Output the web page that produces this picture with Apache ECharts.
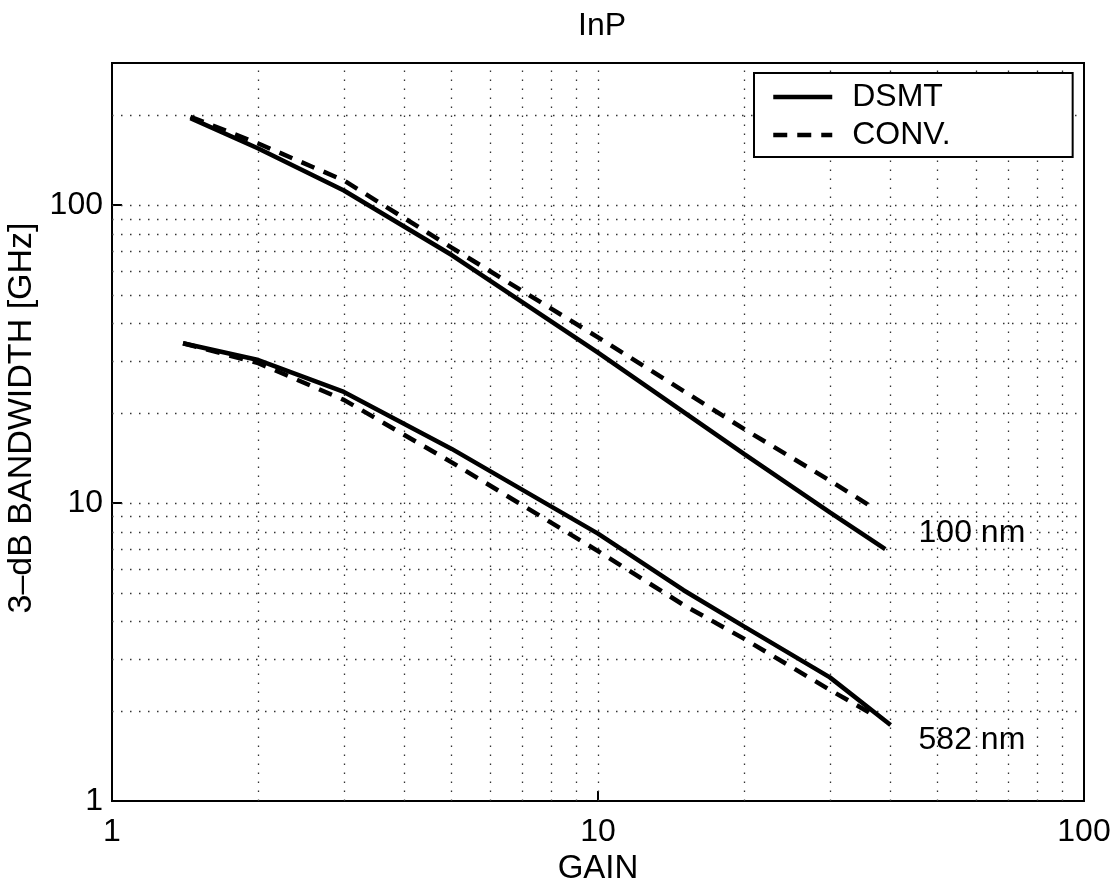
<!DOCTYPE html>
<html>
<head>
<meta charset="utf-8">
<script src="https://cdn.jsdelivr.net/npm/echarts@6/dist/echarts.min.js"></script>
<style>
html,body{margin:0;padding:0;background:#fff;}
#box{width:1114px;height:884px;}
</style>
</head>
<body>
<div id="box"></div>
<script>
// gain values and bandwidth (GHz)
var dsmt100Gain = [1.45, 2, 3, 5, 10, 20, 30, 39];
var dsmt100Bw   = [196, 155, 112, 68, 32, 14.6, 9.3, 7.0];
var conv100Gain = [1.45, 2, 3, 5, 10, 20, 30, 37];
var conv100Bw   = [198, 161, 121, 72, 36, 17.7, 11.9, 9.6];
var dsmt582Gain = [1.4, 2, 3, 5, 10, 15, 20, 30, 40];
var dsmt582Bw   = [34.4, 30.2, 23.6, 15.2, 7.9, 5.1, 3.85, 2.6, 1.8];
var conv582Gain = [1.4, 2, 3, 5, 10, 15, 20, 30, 37];
var conv582Bw   = [34.4, 29.5, 22.2, 13.7, 6.9, 4.55, 3.5, 2.36, 1.94];

// dotted grid positions (matlab style log grid)
var gridX = [2, 3, 4, 5, 6, 7, 8, 9, 10, 20, 30, 40, 50, 60, 70, 80, 90];
var gridY = [2, 3, 4, 5, 6, 7, 8, 9, 10, 20, 30, 40, 50, 60, 70, 80, 90, 100, 200];

var labels = [
	{name: '100 nm', coord: [58.8, 7.9]},
	{name: '582 nm', coord: [58.8, 1.6]}
];

function pairs(xs, ys){
	var out = [];
	for (var i = 0; i < xs.length; i++) out.push([xs[i], ys[i]]);
	return out;
}

var font = 'Liberation Sans, Arial, Helvetica, sans-serif';
var solid = {color: '#000', width: 4.5, type: 'solid'};
var dashed = {color: '#000', width: 4.5, type: [14, 10]};

var gridLines = [];
for (var i = 0; i < gridX.length; i++) gridLines.push({xAxis: gridX[i]});
for (var j = 0; j < gridY.length; j++) gridLines.push({yAxis: gridY[j]});

var mychar = echarts.init(document.getElementById('box'));
var option = {
	animation: false,
	backgroundColor: '#fff',
	title: {
		text: 'InP',
		left: 597,
		top: 5,
		textAlign: 'center',
		textStyle: {fontFamily: font, fontSize: 32, fontWeight: 'normal', color: '#000'}
	},
	legend: {
		data: ['DSMT', 'CONV.'],
		orient: 'vertical',
		left: 754,
		top: 73,
		padding: [8, 122, 6, 17],
		itemGap: 6,
		itemWidth: 59,
		itemHeight: 14,
		backgroundColor: '#fff',
		borderColor: '#000',
		borderWidth: 2,
		borderRadius: 0,
		lineStyle: {width: 4.5},
		itemStyle: {color: 'rgba(0,0,0,0)', borderColor: 'rgba(0,0,0,0)', borderWidth: 0},
		textStyle: {fontFamily: font, fontSize: 32, color: '#000', padding: [0, 0, 0, 15]}
	},
	grid: {
		left: 112, right: 30, top: 63, bottom: 83,
		show: true, borderColor: '#000', borderWidth: 2,
		containLabel: false,
		outerBoundsMode: 'none'
	},
	xAxis: {
		type: 'log',
		logBase: 10,
		min: 1,
		max: 100,
		name: 'GAIN',
		nameLocation: 'middle',
		nameGap: 36,
		nameTextStyle: {fontFamily: font, fontSize: 33, color: '#000'},
		axisLine: {show: true, lineStyle: {color: '#000', width: 2}},
		axisTick: {inside: true, length: 10, lineStyle: {color: '#000', width: 2}},
		axisLabel: {fontFamily: font, fontSize: 32, color: '#000', margin: 15},
		splitLine: {show: false},
		minorTick: {show: false}
	},
	yAxis: {
		type: 'log',
		logBase: 10,
		min: 1,
		max: 300,
		name: '3–dB BANDWIDTH [GHz]',
		nameLocation: 'middle',
		nameGap: 69,
		nameRotate: 90,
		nameTextStyle: {fontFamily: font, fontSize: 34, color: '#000', padding: [0, 0, 0, 28]},
		axisLine: {show: true, lineStyle: {color: '#000', width: 2}},
		axisTick: {inside: true, length: 10, lineStyle: {color: '#000', width: 2}},
		axisLabel: {fontFamily: font, fontSize: 32, color: '#000', margin: 9, showMaxLabel: false},
		splitLine: {show: false}
	},
	series: [
		{
			name: 'DSMT', type: 'line', showSymbol: false, symbol: 'none',
			lineStyle: solid, itemStyle: {color: '#000'},
			data: pairs(dsmt100Gain, dsmt100Bw),
			z: 5,
			markLine: {
				silent: true,
				symbol: ['none', 'none'],
				label: {show: false},
				lineStyle: {color: '#333', width: 1.3, type: [1.5, 7.5]},
				data: gridLines,
				z: 1
			}
		},
		{
			name: 'CONV.', type: 'line', showSymbol: false, symbol: 'none',
			lineStyle: dashed, itemStyle: {color: '#000'},
			data: pairs(conv100Gain, conv100Bw),
			z: 5
		},
		{
			name: 'DSMT', type: 'line', showSymbol: false, symbol: 'none',
			lineStyle: solid, itemStyle: {color: '#000'},
			data: pairs(dsmt582Gain, dsmt582Bw),
			z: 5,
			markPoint: {
				symbol: 'circle',
				symbolSize: 1,
				itemStyle: {color: 'rgba(0,0,0,0)'},
				label: {show: true, position: 'inside', formatter: '{b}', fontFamily: font, fontSize: 32, color: '#000'},
				data: labels
			}
		},
		{
			name: 'CONV.', type: 'line', showSymbol: false, symbol: 'none',
			lineStyle: dashed, itemStyle: {color: '#000'},
			data: pairs(conv582Gain, conv582Bw),
			z: 5
		}
	]
};
mychar.setOption(option);
</script>
</body>
</html>
